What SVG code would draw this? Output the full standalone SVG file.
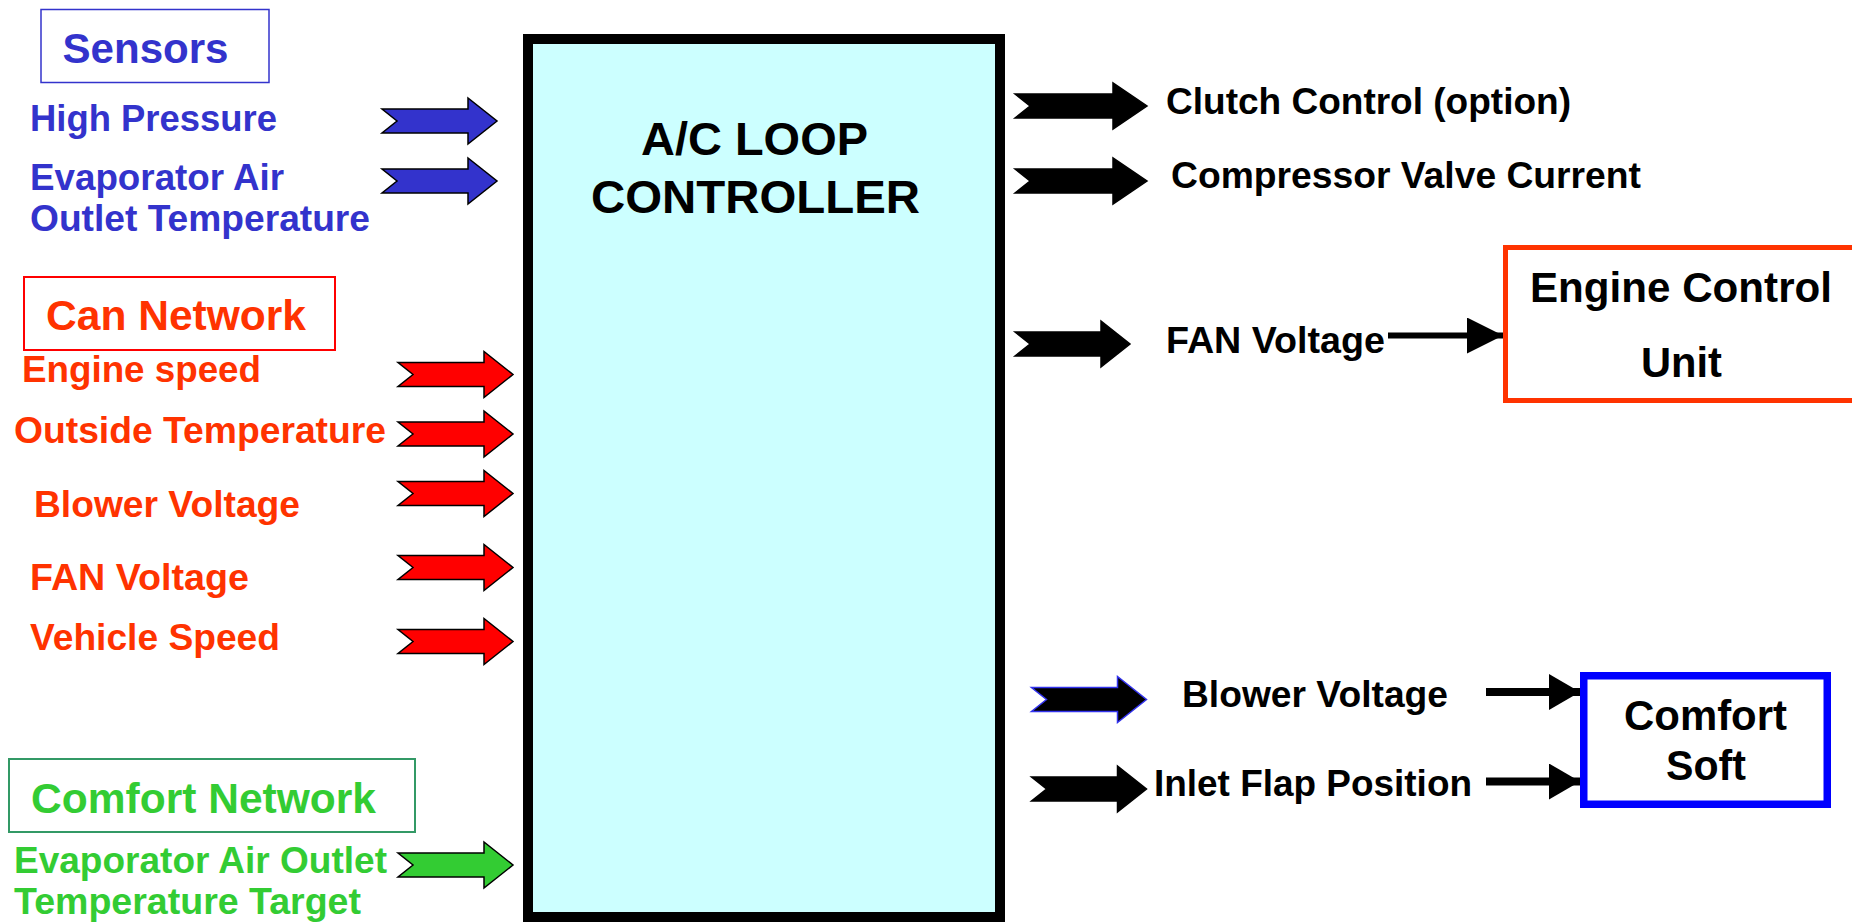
<svg xmlns="http://www.w3.org/2000/svg" width="1852" height="923" viewBox="0 0 1852 923">
<style>
text{font-family:"Liberation Sans",Arial,sans-serif;font-weight:bold}
.blue{fill:#3333CC}
.red{fill:#FF3300}
.green{fill:#33CC33}
.blk{fill:#000}
.h{font-size:42px}
.s{font-size:36px}
.arr{stroke:#000;stroke-width:1.5;stroke-linejoin:miter}
.line{stroke:#000;fill:none}
</style>
<defs>
<path id="a115" d="M0,-12 H86 V-23 L115,0 L86,23 V12 H0 L15,0 Z"/>
<path id="a132" d="M0,-12 H98 V-23 L132,0 L98,23 V12 H0 L15,0 Z"/>
<marker id="hd" markerUnits="userSpaceOnUse" markerWidth="36" markerHeight="36" refX="36" refY="18" orient="auto" viewBox="0 0 36 36">
<path d="M0,0 L36,18 L0,36 Z" fill="#000"/>
</marker>
<marker id="hd2" markerUnits="userSpaceOnUse" markerWidth="31" markerHeight="36" refX="31" refY="18" orient="auto" viewBox="0 0 31 36">
<path d="M0,0 L31,18 L0,36 Z" fill="#000"/>
</marker>
</defs>
<rect width="1852" height="923" fill="#fff"/>

<g id="controller">
<rect x="528" y="39" width="472" height="878" fill="#CCFFFF" stroke="#000" stroke-width="10"/>
<text x="754.5" y="155" font-size="46" text-anchor="middle" textLength="227" lengthAdjust="spacingAndGlyphs" class="blk">A/C LOOP</text>
<text x="755.5" y="213" font-size="46" text-anchor="middle" textLength="329" lengthAdjust="spacingAndGlyphs" class="blk">CONTROLLER</text>
</g>

<g id="sensors">
<rect x="41" y="9.5" width="228" height="73" fill="none" stroke="#3333CC" stroke-width="1.5"/>
<text x="62.5" y="63" class="h blue" textLength="166" lengthAdjust="spacingAndGlyphs">Sensors</text>
</g>
<g id="sensor-signals">
<text x="30" y="131" class="s blue" textLength="247" lengthAdjust="spacingAndGlyphs">High Pressure</text>
<text x="30" y="190" class="s blue" textLength="254" lengthAdjust="spacingAndGlyphs">Evaporator Air</text>
<text x="30" y="231" class="s blue" textLength="340" lengthAdjust="spacingAndGlyphs">Outlet Temperature</text>
</g>

<g id="can-network">
<rect x="24" y="277" width="311" height="73" fill="none" stroke="#FF0000" stroke-width="2"/>
<text x="46" y="330" class="h red" textLength="260" lengthAdjust="spacingAndGlyphs">Can Network</text>
</g>
<g id="can-signals">
<text x="22" y="382" class="s red" textLength="239" lengthAdjust="spacingAndGlyphs">Engine speed</text>
<text x="14" y="443" class="s red" textLength="372" lengthAdjust="spacingAndGlyphs">Outside Temperature</text>
<text x="34" y="517" class="s red" textLength="266" lengthAdjust="spacingAndGlyphs">Blower Voltage</text>
<text x="30" y="590" class="s red" textLength="219" lengthAdjust="spacingAndGlyphs">FAN Voltage</text>
<text x="30" y="650" class="s red" textLength="250" lengthAdjust="spacingAndGlyphs">Vehicle Speed</text>
</g>

<g id="comfort-network">
<rect x="9" y="759" width="406" height="73" fill="none" stroke="#339966" stroke-width="2"/>
<text x="31" y="813" class="h green" textLength="345" lengthAdjust="spacingAndGlyphs">Comfort Network</text>
</g>
<g id="comfort-signals">
<text x="14" y="873" class="s green" textLength="373" lengthAdjust="spacingAndGlyphs">Evaporator Air Outlet</text>
<text x="14" y="914" class="s green" textLength="347" lengthAdjust="spacingAndGlyphs">Temperature Target</text>
</g>

<g id="outputs">
<text x="1166" y="114" class="s blk" textLength="405" lengthAdjust="spacingAndGlyphs">Clutch Control (option)</text>
<text x="1171" y="188" class="s blk" textLength="470" lengthAdjust="spacingAndGlyphs">Compressor Valve Current</text>
<text x="1166" y="353" class="s blk" textLength="219" lengthAdjust="spacingAndGlyphs">FAN Voltage</text>
<text x="1182" y="707" class="s blk" textLength="266" lengthAdjust="spacingAndGlyphs">Blower Voltage</text>
<text x="1154" y="796" class="s blk" textLength="318" lengthAdjust="spacingAndGlyphs">Inlet Flap Position</text>
</g>

<g id="ecu">
<rect x="1505.5" y="247.5" width="400" height="153" fill="#fff" stroke="#FF3300" stroke-width="5"/>
<text x="1530" y="302" class="h blk" textLength="302" lengthAdjust="spacingAndGlyphs">Engine Control</text>
<text x="1641" y="377" class="h blk" textLength="81" lengthAdjust="spacingAndGlyphs">Unit</text>
</g>

<g id="comfort-soft">
<rect x="1583.75" y="675.75" width="243.5" height="128.5" fill="#fff" stroke="#0000FF" stroke-width="7.5"/>
<text x="1624" y="730" class="h blk" textLength="163" lengthAdjust="spacingAndGlyphs">Comfort</text>
<text x="1666" y="780" class="h blk" textLength="80" lengthAdjust="spacingAndGlyphs">Soft</text>
</g>

<g id="connectors">
<use href="#a115" x="382" y="121" fill="#3333CC" class="arr"/>
<use href="#a115" x="382" y="181" fill="#3333CC" class="arr"/>
<use href="#a115" x="398" y="374.5" fill="#FF0000" class="arr"/>
<use href="#a115" x="398" y="434" fill="#FF0000" class="arr"/>
<use href="#a115" x="398" y="493.5" fill="#FF0000" class="arr"/>
<use href="#a115" x="398" y="567.5" fill="#FF0000" class="arr"/>
<use href="#a115" x="398" y="641.5" fill="#FF0000" class="arr"/>
<use href="#a115" x="398" y="865" fill="#33CC33" class="arr"/>
<use href="#a132" x="1015" y="106" fill="#000" class="arr"/>
<use href="#a132" x="1015" y="181" fill="#000" class="arr"/>
<use href="#a115" x="1015" y="344" fill="#000" class="arr"/>
<use href="#a115" x="1031.5" y="699.5" fill="#000" stroke="#3333EE" stroke-width="1.5"/>
<use href="#a115" x="1031.5" y="789" fill="#000" class="arr"/>
<line x1="1388" y1="335.5" x2="1503" y2="335.5" class="line" stroke-width="6" marker-end="url(#hd)"/>
<line x1="1486" y1="692" x2="1580" y2="692" class="line" stroke-width="8" marker-end="url(#hd2)"/>
<line x1="1486" y1="781.5" x2="1580" y2="781.5" class="line" stroke-width="8" marker-end="url(#hd2)"/>
</g>
</svg>
